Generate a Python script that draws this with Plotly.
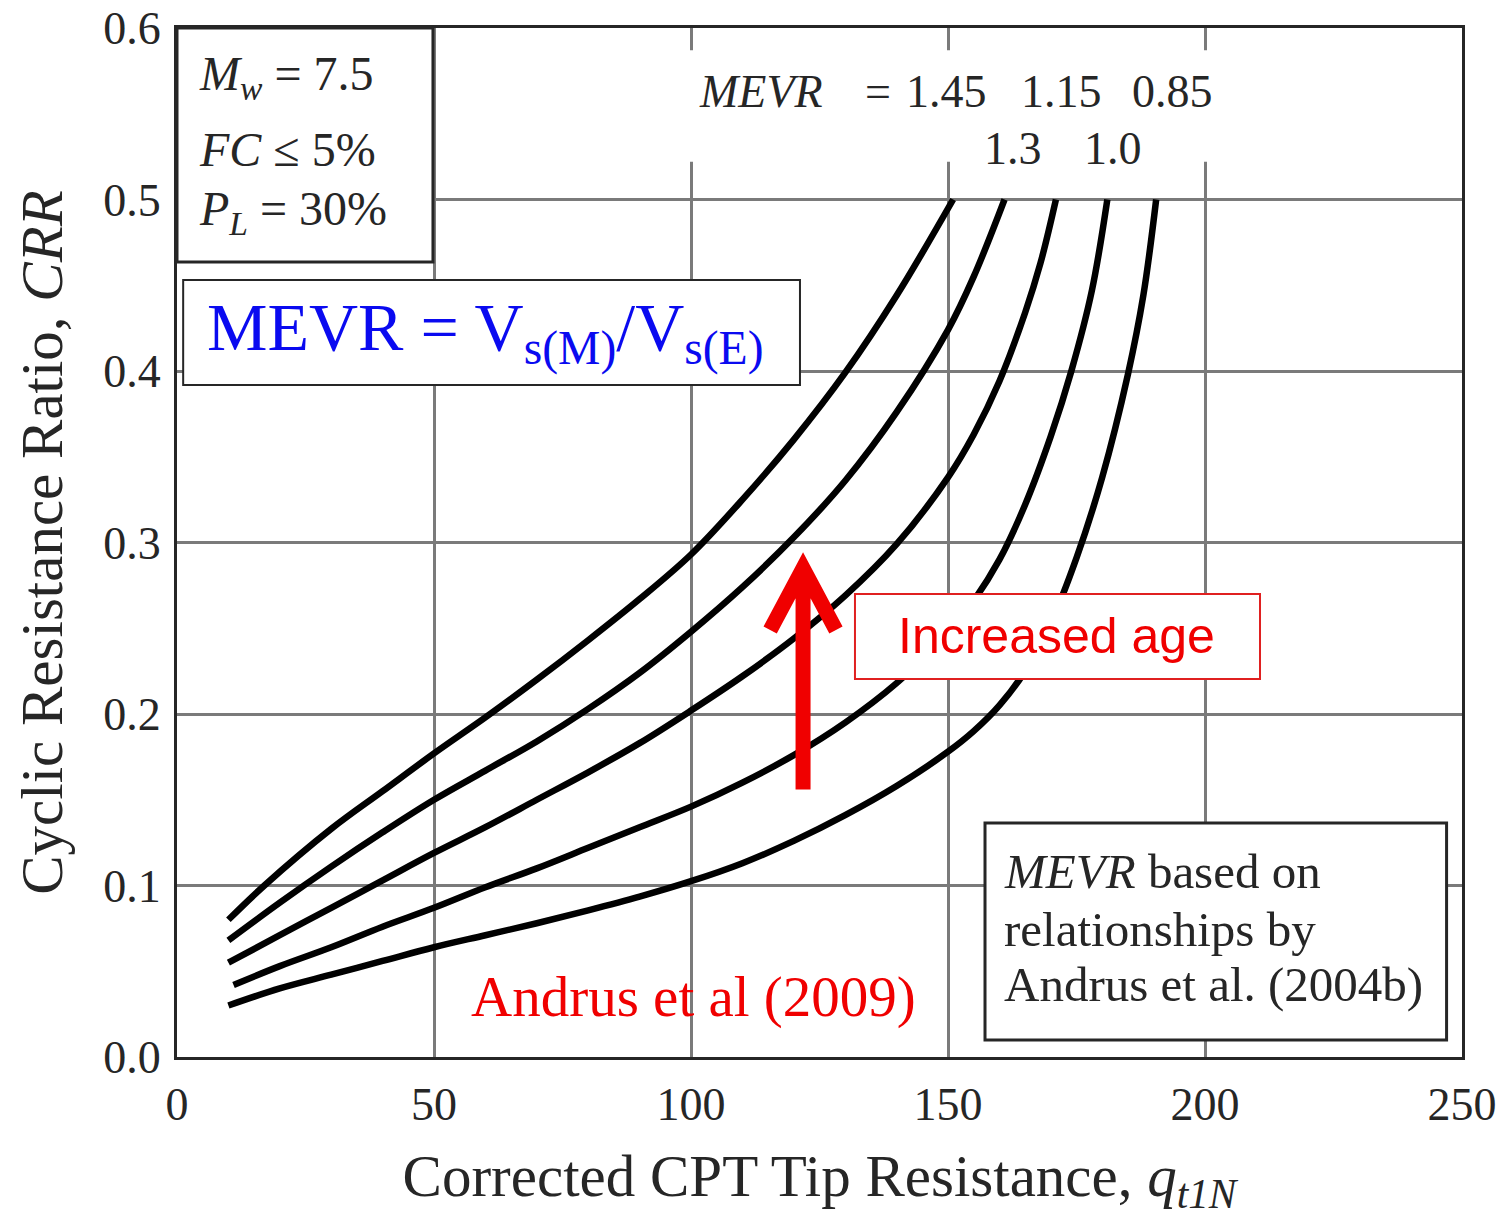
import plotly.graph_objects as go

# ---------------- data ----------------
mevr_values = ["1.45", "1.3", "1.15", "1.0", "0.85"]

qt1n_145 = [10, 17, 30, 40, 50, 60, 70, 80, 90, 100, 110, 120, 130, 140, 151]
crr_145 = [0.080, 0.100, 0.133, 0.155, 0.177, 0.198, 0.220, 0.243, 0.267, 0.293, 0.325, 0.360, 0.399, 0.444, 0.500]

qt1n_130 = [10, 20, 30, 40, 50, 60, 70, 80, 90, 100, 110, 120, 130, 140, 150, 155, 161]
crr_130 = [0.068, 0.090, 0.111, 0.131, 0.150, 0.167, 0.184, 0.203, 0.224, 0.248, 0.274, 0.303, 0.336, 0.376, 0.424, 0.455, 0.500]

qt1n_115 = [10, 20, 30, 40, 50, 60, 70, 80, 90, 100, 110, 120, 130, 140, 150, 155, 160, 165, 168, 171]
crr_115 = [0.055, 0.071, 0.087, 0.103, 0.119, 0.134, 0.150, 0.166, 0.183, 0.202, 0.222, 0.244, 0.269, 0.299, 0.338, 0.363, 0.394, 0.434, 0.463, 0.500]

qt1n_100 = [11, 20, 30, 40, 50, 60, 70, 80, 90, 100, 110, 120, 130, 140, 150, 155, 160, 165, 170, 174, 178, 181]
crr_100 = [0.042, 0.053, 0.064, 0.076, 0.087, 0.099, 0.110, 0.122, 0.134, 0.146, 0.160, 0.176, 0.195, 0.218, 0.247, 0.266, 0.290, 0.322, 0.362, 0.400, 0.447, 0.500]

qt1n_085 = [10, 20, 30, 40, 50, 60, 70, 80, 90, 100, 110, 120, 130, 140, 150, 155, 160, 165, 170, 175, 180, 185, 188, 190.5]
crr_085 = [0.030, 0.040, 0.048, 0.056, 0.064, 0.071, 0.078, 0.0855, 0.0935, 0.1025, 0.113, 0.126, 0.141, 0.158, 0.178, 0.190, 0.205, 0.225, 0.253, 0.291, 0.338, 0.398, 0.444, 0.500]

x_ticks = [0, 50, 100, 150, 200, 250]
y_ticks = [0.0, 0.1, 0.2, 0.3, 0.4, 0.5, 0.6]

series = [
    (mevr_values[0], qt1n_145, crr_145),
    (mevr_values[1], qt1n_130, crr_130),
    (mevr_values[2], qt1n_115, crr_115),
    (mevr_values[3], qt1n_100, crr_100),
    (mevr_values[4], qt1n_085, crr_085),
]

SERIF = "Liberation Serif, Times New Roman, serif"
SANS = "Liberation Sans, Arial, sans-serif"
INK = "#262626"
RED = "#f00000"
BLUE = "#0a0af0"

fig = go.Figure()
for name, xs, ys in series:
    fig.add_trace(go.Scatter(
        x=xs, y=ys, mode="lines", name="MEVR = " + name,
        line=dict(color="black", width=6.5, shape="spline", smoothing=1.0),
        showlegend=False,
    ))

shapes = [
    # white block behind the MEVR labels at the top
    dict(type="rect", xref="x", yref="y", x0=97.9, x1=204.5, y0=0.522, y1=0.587,
         fillcolor="white", line=dict(width=0), layer="above"),
    # top-left conditions box
    dict(type="rect", xref="x", yref="y", x0=0, x1=49.8, y0=0.4636, y1=0.6,
         fillcolor="white", line=dict(color=INK, width=3), layer="above"),
    # MEVR definition box
    dict(type="rect", xref="x", yref="y", x0=1.2, x1=121.2, y0=0.3918, y1=0.4531,
         fillcolor="white", line=dict(color=INK, width=2), layer="above"),
    # "Increased age" box
    dict(type="rect", xref="x", yref="y", x0=131.9, x1=210.7, y0=0.2204, y1=0.2700,
         fillcolor="white", line=dict(color="#e02020", width=2), layer="above"),
    # bottom-right note box
    dict(type="rect", xref="x", yref="y", x0=157.2, x1=247.0, y0=0.0099, y1=0.1364,
         fillcolor="white", line=dict(color=INK, width=3), layer="above"),
    # red arrow (shaft + chevron head)
    dict(type="path", xref="x", yref="y",
         path="M 121.8,0.156 L 121.8,0.283 M 115.4,0.249 L 121.8,0.285 L 128.2,0.249",
         line=dict(color=RED, width=15), layer="above"),
]

annotations = []
# conditions box text
cond_lines = [
    ("<i>M</i><sub><i>w</i></sub> = 7.5", 0.5715),
    ("<i>FC</i> ≤ 5%", 0.5289),
    ("<i>P</i><sub><i>L</i></sub> = 30%", 0.4925),
]
for txt, yy in cond_lines:
    annotations.append(dict(x=3.9, y=yy, xref="x", yref="y", text=txt, showarrow=False,
                            xanchor="left", yanchor="middle",
                            font=dict(family=SERIF, size=48, color=INK)))

# MEVR definition
annotations.append(dict(x=5.5, y=0.4225, xref="x", yref="y",
                        text="MEVR = V<sub>s(M)</sub>/V<sub>s(E)</sub>", showarrow=False,
                        xanchor="left", yanchor="middle",
                        font=dict(family=SERIF, size=68, color=BLUE)))

# MEVR labels at the top
annotations.append(dict(x=126.1, y=0.563, xref="x", yref="y", text="<i>MEVR</i>",
                        showarrow=False, xanchor="right", yanchor="middle",
                        font=dict(family=SERIF, size=46, color=INK)))
annotations.append(dict(x=136.4, y=0.563, xref="x", yref="y", text="=",
                        showarrow=False, xanchor="center", yanchor="middle",
                        font=dict(family=SERIF, size=46, color=INK)))
label_x = [149.8, 162.6, 172.0, 182.1, 193.6]
label_y = [0.563, 0.530, 0.563, 0.530, 0.563]
for txt, lx, ly in zip(mevr_values, label_x, label_y):
    annotations.append(dict(x=lx, y=ly, xref="x", yref="y", text=txt, showarrow=False,
                            xanchor="center", yanchor="middle",
                            font=dict(family=SERIF, size=46, color=INK)))

# Increased age
annotations.append(dict(x=171.2, y=0.2452, xref="x", yref="y", text="Increased age",
                        showarrow=False, xanchor="center", yanchor="middle",
                        font=dict(family=SANS, size=50, color=RED)))

# Andrus et al (2009)
annotations.append(dict(x=100.5, y=0.035, xref="x", yref="y", text="Andrus et al (2009)",
                        showarrow=False, xanchor="center", yanchor="middle",
                        font=dict(family=SERIF, size=57, color=RED)))

# bottom-right note
note_lines = [
    ("<i>MEVR</i> based on", 0.1079),
    ("relationships by", 0.0741),
    ("Andrus et al. (2004b)", 0.0420),
]
for txt, yy in note_lines:
    annotations.append(dict(x=160.5, y=yy, xref="x", yref="y", text=txt, showarrow=False,
                            xanchor="left", yanchor="middle",
                            font=dict(family=SERIF, size=49, color=INK)))

fig.update_layout(
    width=1498, height=1217,
    margin=dict(l=177, r=36, t=28, b=160, autoexpand=False),
    paper_bgcolor="white", plot_bgcolor="white",
    shapes=shapes, annotations=annotations,
    font=dict(family=SERIF, color=INK),
)
fig.update_xaxes(
    range=[0, 250], tickvals=x_ticks, ticktext=[str(v) for v in x_ticks],
    showgrid=True, gridcolor="#7a7a7a", gridwidth=2.5, zeroline=False,
    showline=True, mirror=True, linecolor=INK, linewidth=3,
    ticks="outside", ticklen=5, tickcolor="rgba(0,0,0,0)", automargin=False,
    tickfont=dict(family=SERIF, size=46, color=INK),
    title=dict(text="Corrected CPT Tip Resistance, <i>q</i><sub><i>t1N</i></sub>",
               font=dict(family=SERIF, size=59, color=INK), standoff=28),
)
fig.update_yaxes(
    range=[0, 0.6], tickvals=y_ticks, ticktext=["%.1f" % v for v in y_ticks],
    showgrid=True, gridcolor="#7a7a7a", gridwidth=2.5, zeroline=False,
    showline=True, mirror=True, linecolor=INK, linewidth=3,
    ticks="outside", ticklen=4, tickcolor="rgba(0,0,0,0)", automargin=False,
    tickfont=dict(family=SERIF, size=46, color=INK),
    title=dict(text="Cyclic Resistance Ratio, <i>CRR</i>",
               font=dict(family=SERIF, size=59, color=INK), standoff=22),
)

fig.write_html("out.html")
